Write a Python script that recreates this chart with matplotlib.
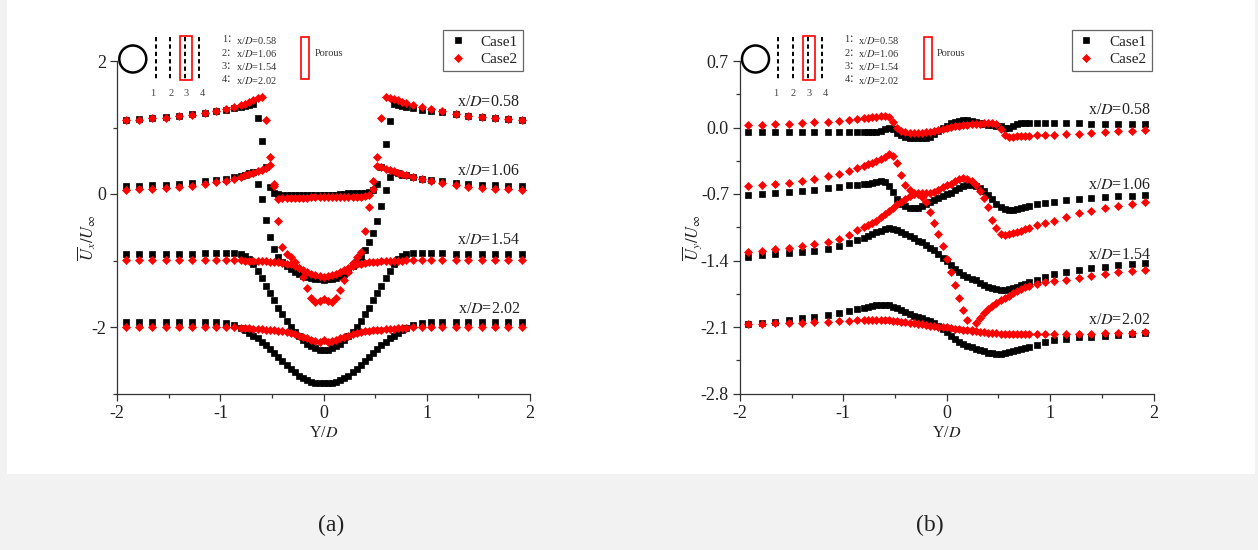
import matplotlib
matplotlib.use("Agg")
import matplotlib.pyplot as plt
from matplotlib.patches import Rectangle, Circle
from matplotlib.lines import Line2D
from matplotlib.ticker import MultipleLocator, FixedLocator, FormatStrFormatter

plt.rcParams['font.family'] = ['Liberation Serif', 'Noto Sans CJK SC', 'DejaVu Sans']
plt.rcParams['mathtext.fontset'] = 'stix'
plt.rcParams['axes.unicode_minus'] = False

# ---------------------------------------------------------------- data
# lateral sampling positions Y/D
Y = [-1.92, -1.79, -1.66, -1.53, -1.40, -1.28, -1.15, -1.04, -0.95, -0.87,
     -0.80, -0.76, -0.72, -0.68, -0.64, -0.60, -0.56, -0.52, -0.48, -0.44,
     -0.40, -0.36, -0.32, -0.28, -0.24, -0.20, -0.16, -0.12, -0.08, -0.04,
     0.00, 0.04, 0.08, 0.12, 0.16, 0.20, 0.24, 0.28, 0.32, 0.36,
     0.40, 0.44, 0.48, 0.52, 0.56, 0.60, 0.64, 0.68, 0.72, 0.76, 0.80,
     0.87, 0.95, 1.04, 1.15, 1.28, 1.40, 1.53, 1.66, 1.79, 1.92]

stations = ['0.58', '1.06', '1.54', '2.02']
cases = ['Case1', 'Case2']

# streamwise velocity (shifted per station)
ux_c1_058 = [1.12, 1.13, 1.15, 1.16, 1.18, 1.20, 1.22, 1.25, 1.27, 1.29,
             1.31, 1.32, 1.34, 1.36, 1.15, 0.80, 0.40, 0.10, 0.02, 0.00,
             -0.01, -0.02, -0.02, -0.02, -0.02, -0.02, -0.02, -0.02, -0.02, -0.02,
             -0.02, -0.01, -0.01, -0.01, 0.00, 0.00, 0.01, 0.01, 0.01, 0.02,
             0.02, 0.03, 0.06, 0.15, 0.40, 0.75, 1.10, 1.35, 1.34, 1.32, 1.31,
             1.29, 1.27, 1.25, 1.23, 1.20, 1.18, 1.16, 1.15, 1.13, 1.12]
ux_c2_058 = [1.11, 1.12, 1.14, 1.15, 1.17, 1.19, 1.22, 1.25, 1.28, 1.31,
             1.34, 1.36, 1.38, 1.41, 1.44, 1.46, 1.12, 0.56, 0.12, -0.07,
             -0.065, -0.06, -0.06, -0.055, -0.055, -0.055, -0.055, -0.05, -0.05, -0.05,
             -0.05, -0.05, -0.05, -0.05, -0.045, -0.045, -0.045, -0.04, -0.04, -0.04,
             -0.035, -0.02, 0.08, 0.55, 1.15, 1.46, 1.45, 1.43, 1.41, 1.39, 1.37,
             1.34, 1.31, 1.28, 1.25, 1.21, 1.18, 1.16, 1.15, 1.13, 1.12]
ux_c1_106 = [0.12, 0.125, 0.13, 0.14, 0.15, 0.17, 0.19, 0.21, 0.23, 0.25,
             0.27, 0.29, 0.31, 0.33, 0.15, -0.08, -0.39, -0.64, -0.82, -0.94,
             -1.02, -1.08, -1.13, -1.17, -1.21, -1.235, -1.255, -1.27, -1.28, -1.285,
             -1.29, -1.285, -1.275, -1.26, -1.235, -1.20, -1.15, -1.09, -1.02, -0.94,
             -0.84, -0.72, -0.58, -0.40, -0.18, 0.06, 0.26, 0.33, 0.31, 0.29, 0.28,
             0.26, 0.23, 0.21, 0.19, 0.17, 0.15, 0.14, 0.13, 0.125, 0.12]
ux_c2_106 = [0.06, 0.07, 0.08, 0.09, 0.10, 0.12, 0.15, 0.18, 0.20, 0.23,
             0.26, 0.28, 0.30, 0.32, 0.34, 0.36, 0.39, 0.43, 0.15, -0.40,
             -0.80, -0.90, -0.95, -1.02, -1.12, -1.25, -1.42, -1.56, -1.63, -1.61,
             -1.575, -1.61, -1.63, -1.56, -1.44, -1.30, -1.18, -1.04, -0.95, -0.87,
             -0.55, -0.20, 0.20, 0.42, 0.40, 0.38, 0.36, 0.34, 0.32, 0.30, 0.28,
             0.25, 0.22, 0.19, 0.16, 0.13, 0.11, 0.09, 0.08, 0.07, 0.06]
ux_c1_154 = [-0.90, -0.90, -0.90, -0.90, -0.90, -0.895, -0.89, -0.885, -0.88, -0.88,
             -0.90, -0.93, -0.98, -1.06, -1.16, -1.27, -1.38, -1.49, -1.60, -1.71,
             -1.81, -1.91, -2.00, -2.07, -2.14, -2.20, -2.25, -2.29, -2.32, -2.34,
             -2.35, -2.34, -2.32, -2.29, -2.25, -2.20, -2.14, -2.07, -2.00, -1.91,
             -1.81, -1.71, -1.60, -1.49, -1.38, -1.27, -1.16, -1.06, -0.98, -0.93, -0.90,
             -0.88, -0.88, -0.885, -0.89, -0.895, -0.90, -0.90, -0.90, -0.90, -0.90]
ux_c2_154 = [-0.99, -0.99, -0.99, -0.99, -0.99, -0.99, -0.99, -0.99, -0.99, -0.99,
             -0.99, -1.00, -1.00, -1.00, -1.005, -1.01, -1.01, -1.02, -1.025, -1.03,
             -1.04, -1.05, -1.06, -1.08, -1.11, -1.14, -1.17, -1.20, -1.22, -1.24,
             -1.25, -1.24, -1.22, -1.20, -1.17, -1.14, -1.11, -1.08, -1.06, -1.05,
             -1.04, -1.03, -1.025, -1.02, -1.01, -1.01, -1.005, -1.00, -1.00, -1.00, -0.99,
             -0.99, -0.99, -0.99, -0.99, -0.99, -0.99, -0.99, -0.99, -0.99, -0.99]
ux_c1_202 = [-1.93, -1.93, -1.93, -1.93, -1.93, -1.93, -1.93, -1.93, -1.94, -1.97,
             -2.01, -2.05, -2.09, -2.13, -2.17, -2.22, -2.27, -2.33, -2.39, -2.45,
             -2.51, -2.57, -2.63, -2.68, -2.73, -2.77, -2.80, -2.82, -2.835, -2.84,
             -2.845, -2.84, -2.835, -2.82, -2.80, -2.77, -2.73, -2.68, -2.63, -2.57,
             -2.51, -2.45, -2.39, -2.33, -2.27, -2.22, -2.17, -2.13, -2.09, -2.05, -2.01,
             -1.97, -1.94, -1.93, -1.93, -1.93, -1.93, -1.93, -1.93, -1.93, -1.93]
ux_c2_202 = [-2.00, -2.00, -2.00, -2.00, -2.00, -2.00, -2.00, -2.00, -2.00, -2.00,
             -2.01, -2.015, -2.02, -2.025, -2.03, -2.035, -2.04, -2.045, -2.05, -2.055,
             -2.06, -2.07, -2.09, -2.11, -2.13, -2.15, -2.17, -2.19, -2.21, -2.22,
             -2.20, -2.22, -2.21, -2.19, -2.17, -2.15, -2.13, -2.11, -2.09, -2.07,
             -2.06, -2.055, -2.05, -2.045, -2.04, -2.035, -2.03, -2.025, -2.02, -2.015, -2.01,
             -2.00, -2.00, -2.00, -2.00, -2.00, -2.00, -2.00, -2.00, -2.00, -2.00]

# lateral velocity (shifted per station)
uy_c1_058 = [-0.045, -0.045, -0.045, -0.045, -0.05, -0.05, -0.05, -0.05, -0.05, -0.05,
             -0.05, -0.05, -0.048, -0.045, -0.04, -0.02, -0.005, -0.02, -0.06, -0.08,
             -0.10, -0.11, -0.115, -0.115, -0.115, -0.11, -0.095, -0.07, -0.04, -0.01,
             0.02, 0.045, 0.06, 0.07, 0.075, 0.075, 0.07, 0.06, 0.05, 0.04,
             0.03, 0.025, 0.02, 0.015, 0.00, -0.01, 0.02, 0.04, 0.05, 0.05, 0.05,
             0.05, 0.05, 0.045, 0.045, 0.045, 0.04, 0.04, 0.04, 0.04, 0.04]
uy_c2_058 = [0.028, 0.03, 0.033, 0.037, 0.045, 0.053, 0.062, 0.072, 0.08, 0.09,
             0.098, 0.103, 0.108, 0.112, 0.116, 0.12, 0.115, 0.06, 0.00, -0.035,
             -0.045, -0.055, -0.058, -0.058, -0.055, -0.052, -0.045, -0.035, -0.025, -0.015,
             -0.005, 0.005, 0.012, 0.018, 0.023, 0.028, 0.032, 0.036, 0.04, 0.043,
             0.046, 0.045, 0.035, -0.02, -0.08, -0.095, -0.095, -0.092, -0.09, -0.088, -0.086,
             -0.083, -0.08, -0.077, -0.072, -0.065, -0.057, -0.05, -0.042, -0.035, -0.027]
uy_c1_106 = [-0.71, -0.695, -0.685, -0.675, -0.665, -0.655, -0.64, -0.625, -0.61, -0.60,
             -0.595, -0.59, -0.58, -0.57, -0.56, -0.57, -0.62, -0.68, -0.75, -0.80,
             -0.83, -0.845, -0.85, -0.845, -0.83, -0.80, -0.78, -0.76, -0.745, -0.725,
             -0.705, -0.685, -0.66, -0.64, -0.62, -0.605, -0.605, -0.62, -0.64, -0.67,
             -0.71, -0.75, -0.80, -0.835, -0.86, -0.87, -0.865, -0.855, -0.845, -0.835, -0.825,
             -0.81, -0.795, -0.78, -0.765, -0.755, -0.745, -0.735, -0.725, -0.72, -0.71]
uy_c2_106 = [-0.62, -0.605, -0.595, -0.58, -0.56, -0.545, -0.515, -0.485, -0.455, -0.425,
             -0.40, -0.385, -0.37, -0.35, -0.33, -0.31, -0.275, -0.30, -0.37, -0.50,
             -0.61, -0.66, -0.685, -0.70, -0.73, -0.78, -0.89, -1.00, -1.12, -1.25,
             -1.38, -1.52, -1.66, -1.79, -1.92, -2.03, -2.13, -2.06, -2.00, -1.95,
             -1.91, -1.88, -1.85, -1.82, -1.79, -1.77, -1.74, -1.72, -1.70, -1.68, -1.67,
             -1.65, -1.63, -1.62, -1.60, -1.58, -1.56, -1.54, -1.52, -1.51, -1.495]
uy_c1_154 = [-1.36, -1.345, -1.335, -1.325, -1.315, -1.30, -1.275, -1.245, -1.215, -1.18,
             -1.16, -1.14, -1.12, -1.10, -1.085, -1.07, -1.06, -1.065, -1.08, -1.10,
             -1.12, -1.145, -1.165, -1.19, -1.21, -1.24, -1.265, -1.29, -1.33, -1.37,
             -1.41, -1.45, -1.49, -1.52, -1.55, -1.57, -1.59, -1.61, -1.635, -1.655,
             -1.675, -1.69, -1.705, -1.71, -1.71, -1.70, -1.69, -1.675, -1.66, -1.645, -1.63,
             -1.60, -1.57, -1.545, -1.525, -1.50, -1.48, -1.465, -1.45, -1.44, -1.43]
uy_c2_154 = [-1.31, -1.30, -1.28, -1.27, -1.25, -1.23, -1.20, -1.17, -1.13, -1.08,
             -1.05, -1.03, -1.01, -0.98, -0.945, -0.91, -0.875, -0.845, -0.81, -0.78,
             -0.75, -0.72, -0.70, -0.69, -0.69, -0.69, -0.69, -0.675, -0.655, -0.63,
             -0.61, -0.59, -0.565, -0.545, -0.535, -0.54, -0.565, -0.61, -0.67, -0.74,
             -0.84, -0.97, -1.06, -1.12, -1.13, -1.125, -1.11, -1.10, -1.085, -1.07, -1.055,
             -1.03, -1.005, -0.98, -0.94, -0.90, -0.875, -0.85, -0.83, -0.81, -0.785]
uy_c1_202 = [-2.065, -2.055, -2.045, -2.03, -2.01, -1.995, -1.975, -1.95, -1.93, -1.91,
             -1.90, -1.89, -1.88, -1.87, -1.865, -1.865, -1.87, -1.885, -1.90, -1.92,
             -1.94, -1.96, -1.98, -1.995, -2.01, -2.025, -2.04, -2.06, -2.09, -2.12,
             -2.155, -2.19, -2.23, -2.26, -2.28, -2.30, -2.315, -2.33, -2.34, -2.355,
             -2.37, -2.375, -2.38, -2.38, -2.375, -2.365, -2.355, -2.345, -2.335, -2.32, -2.31,
             -2.29, -2.26, -2.24, -2.225, -2.21, -2.20, -2.19, -2.185, -2.175, -2.165]
uy_c2_202 = [-2.07, -2.065, -2.06, -2.06, -2.055, -2.05, -2.045, -2.04, -2.035, -2.03,
             -2.03, -2.03, -2.03, -2.03, -2.03, -2.03, -2.03, -2.035, -2.04, -2.045,
             -2.05, -2.055, -2.06, -2.065, -2.07, -2.08, -2.085, -2.09, -2.095, -2.10,
             -2.105, -2.11, -2.12, -2.125, -2.13, -2.135, -2.14, -2.145, -2.15, -2.155,
             -2.16, -2.16, -2.165, -2.17, -2.17, -2.17, -2.17, -2.17, -2.17, -2.17, -2.17,
             -2.17, -2.17, -2.17, -2.17, -2.17, -2.17, -2.165, -2.16, -2.16, -2.155]

ux_ticks = [-2, 0, 2]
uy_ticks = [-2.8, -2.1, -1.4, -0.7, 0.0, 0.7]

# ---------------------------------------------------------------- figure
W, H = 1258, 550
fig = plt.figure(figsize=(W / 100, H / 100), dpi=100, facecolor='#f2f2f2')


def rect_px(x0, y0, x1, y1):
    return [x0 / W, 1 - y1 / H, (x1 - x0) / W, (y1 - y0) / H]


fig.add_artist(Rectangle((7 / W, 1 - 473.5 / H), (1254.7 - 7) / W, 473.5 / H,
                         transform=fig.transFigure, facecolor='white',
                         edgecolor='none', zorder=-5))

ax_a = fig.add_axes(rect_px(117.3, 61.0, 530.0, 393.5))
ax_b = fig.add_axes(rect_px(740.0, 61.0, 1153.5, 393.5))

TXT = '#222222'
SQ = dict(marker='s', ms=5.0, color='black', mec='black', mew=0.5, ls='none')
DM = dict(marker='D', ms=4.4, color='#ff0000', mec='#ff0000', mew=0.5, ls='none')


def draw_panel(ax, black, red, ylim, yticks, yminor, yfmt, label_x, label_y, legend_right):
    for s in black:
        ax.plot(Y, s, zorder=3, **SQ)
    for s in red:
        ax.plot(Y, s, zorder=4, **DM)
    ax.set_xlim(-2, 2)
    ax.set_ylim(*ylim)
    ax.xaxis.set_major_locator(MultipleLocator(1))
    ax.xaxis.set_minor_locator(MultipleLocator(0.5))
    ax.yaxis.set_major_locator(FixedLocator(yticks))
    ax.yaxis.set_minor_locator(FixedLocator(yminor))
    if yfmt:
        ax.yaxis.set_major_formatter(FormatStrFormatter(yfmt))
    for side in ('top', 'right'):
        ax.spines[side].set_visible(False)
    for side in ('left', 'bottom'):
        ax.spines[side].set_color('#333333')
        ax.spines[side].set_linewidth(0.9)
    ax.tick_params(which='major', direction='out', length=5, width=0.9,
                   labelsize=13, pad=3, colors='#333333', labelcolor=TXT)
    ax.tick_params(which='minor', direction='out', length=3, width=0.9, colors='#333333')
    ax.set_facecolor('white')
    for st, ly in zip(stations, label_y):
        ax.text(label_x, ly, 'x/$D$=' + st, ha='right', va='center',
                fontsize=11.5, color=TXT, zorder=6)
    handles = [Line2D([], [], **SQ), Line2D([], [], **DM)]
    leg = ax.legend(handles, cases, loc='upper right',
                    bbox_to_anchor=(legend_right / W, 1 - 29.5 / H),
                    bbox_transform=fig.transFigure, borderaxespad=0,
                    fancybox=False, edgecolor='#666666', framealpha=1,
                    fontsize=11, handlelength=1.2, handletextpad=0.9,
                    borderpad=0.35, labelspacing=0.25, markerscale=1.0)
    leg.get_frame().set_linewidth(0.9)
    for t in leg.get_texts():
        t.set_color(TXT)


draw_panel(ax_a,
           [ux_c1_058, ux_c1_106, ux_c1_154, ux_c1_202],
           [ux_c2_058, ux_c2_106, ux_c2_154, ux_c2_202],
           (-3, 2), ux_ticks, [-3, -1, 1], None,
           1.90, [1.39, 0.35, -0.69, -1.73], 523.3)
draw_panel(ax_b,
           [uy_c1_058, uy_c1_106, uy_c1_154, uy_c1_202],
           [uy_c2_058, uy_c2_106, uy_c2_154, uy_c2_202],
           (-2.8, 0.7), uy_ticks, [-2.45, -1.75, -1.05, -0.35, 0.35], '%.1f',
           1.97, [0.18, -0.605, -1.337, -2.03], 1151.7)

# axis titles
for xc in (323.5, 946.5):
    fig.text(xc / W, 1 - 433 / H, 'Y/$D$', ha='center', va='center',
             fontsize=11.5, color=TXT)
fig.text(87 / W, 1 - 238 / H, r'$\overline{U}_x/U_\infty$', rotation=90,
         ha='center', va='center', fontsize=12, color=TXT)
fig.text(692 / W, 1 - 238 / H, r'$\overline{U}_y/U_\infty$', rotation=90,
         ha='center', va='center', fontsize=12, color=TXT)

# panel tags
fig.text(331 / W, 1 - 525 / H, '(a)', ha='center', va='center', fontsize=17, color=TXT)
fig.text(930 / W, 1 - 525 / H, '(b)', ha='center', va='center', fontsize=17, color=TXT)

# ---------------------------------------------------------------- sketch of the set-up
ov = fig.add_axes([0, 0, 1, 1], zorder=5)
ov.set_xlim(0, W)
ov.set_ylim(H, 0)
ov.axis('off')


def draw_sketch(x0):
    ov.add_patch(Circle((x0 + 15.5, 59.0), 13.5, fill=False, lw=1.8, ec='black'))
    for dx in (38.4, 52.7, 67.7, 82.0):
        ov.plot([x0 + dx, x0 + dx], [36.5, 79.5], color='black', lw=1.4,
                ls=(0, (2.2, 1.6)))
    ov.add_patch(Rectangle((x0 + 62.7, 36.0), 12.3, 44.0, fill=False,
                           lw=1.2, ec='#ff0000'))
    for k, dx in enumerate((35.4, 53.4, 69.0, 85.4)):
        ov.text(x0 + dx, 93.5, str(k + 1), ha='center', va='center',
                fontsize=7.5, color='#444444')
    for k, (st, yy) in enumerate(zip(stations, (40.0, 53.3, 66.7, 80.0))):
        ov.text(x0 + 104.4, yy, f'{k + 1}：', ha='left', va='center',
                fontsize=7.5, color='#333333',
                family=['Liberation Serif', 'Noto Sans CJK SC'])
        ov.text(x0 + 118.5, yy, 'x/$D$=' + st, ha='left', va='center',
                fontsize=7.5, color='#333333')
    ov.add_patch(Rectangle((x0 + 183.7, 36.5), 8.0, 42.5, fill=False,
                           lw=1.2, ec='#ff0000'))
    ov.text(x0 + 197.0, 54.0, 'Porous', ha='left', va='center',
            fontsize=7.5, color='#333333')


draw_sketch(117.3)
draw_sketch(740.0)

fig.savefig('out.png', dpi=100, facecolor=fig.get_facecolor())
